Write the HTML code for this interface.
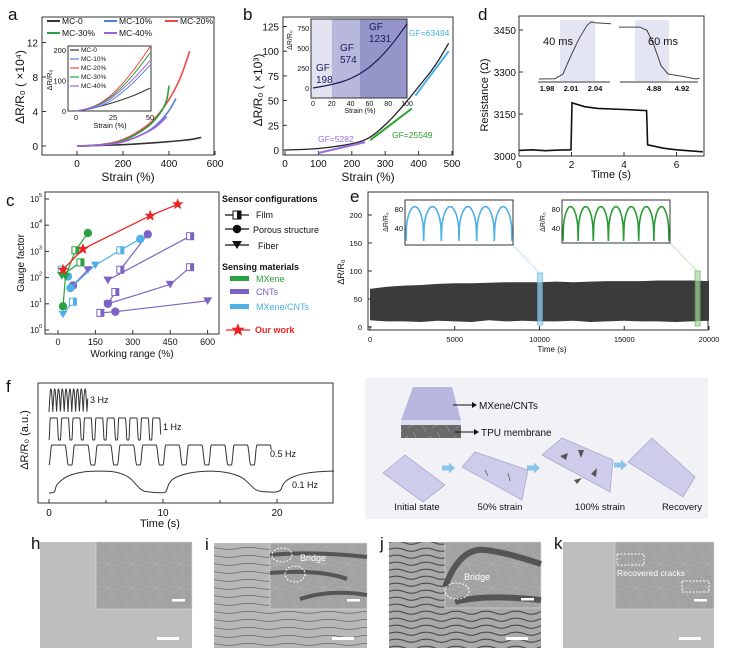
<!DOCTYPE html>
<html><head><meta charset="utf-8"><style>
html,body{margin:0;padding:0;background:#fff;}
svg{display:block;font-family:"Liberation Sans",Arial,sans-serif;}
</style></head><body>
<svg id="fig" width="729" height="661" viewBox="0 0 729 661" xmlns="http://www.w3.org/2000/svg">
<defs>
<pattern id="crk" width="40" height="8" patternUnits="userSpaceOnUse"><path d="M0 4 Q10 2.5 20 4.5 T40 4" stroke="#666" stroke-width="0.7" fill="none"/></pattern>
<pattern id="crk2" width="30" height="7" patternUnits="userSpaceOnUse"><path d="M0 3 Q8 1 15 4 T30 3" stroke="#4a4a4a" stroke-width="1.1" fill="none"/></pattern>
<pattern id="fib" width="24" height="24" patternUnits="userSpaceOnUse"><path d="M0 20 L24 4 M5 0 L18 24 M0 10 L24 14" stroke="#bdbdbd" stroke-width="0.4" fill="none"/></pattern>
</defs>
<g id="root"></g>
</svg>
<script>
// ---------- data ----------
const aMC0=[[0,0],[100,0.05],[200,0.15],[300,0.3],[400,0.5],[500,0.75],[540,1.0]];
const aMC10=[[0,0],[100,0.05],[200,0.4],[300,1.5],[350,2.5],[400,4],[430,5.5]];
const aMC20=[[0,0],[100,0.1],[200,0.6],[300,2.2],[350,3.5],[400,5.3],[450,7.8],[490,11]];
const aMC30=[[0,0],[100,0.08],[200,0.5],[300,2.0],[350,3.3],[390,5],[400,7]];
const aMC40=[[0,0],[100,0.05],[200,0.4],[300,1.5],[350,2.3],[390,3.4]];
const aiMC0=[[0,0],[10,8],[20,20],[30,35],[40,52],[50,75]];
const aiMC10=[[0,0],[10,6],[20,22],[30,55],[40,98],[50,150]];
const aiMC20=[[0,0],[10,10],[20,35],[30,80],[40,140],[50,210]];
const aiMC30=[[0,0],[10,9],[20,32],[30,72],[40,125],[50,190]];
const aiMC40=[[0,0],[10,8],[20,28],[30,65],[40,110],[50,165]];
const aXTicks=[0,200,400,600], aYTicks=[0,4,8,12];
const bMain=[[0,0],[100,1],[200,6],[250,11],[300,25],[350,43],[400,64],[450,85],[490,108]];
const bFitP=[[100,-3],[240,8]], bFitG=[[255,10],[380,42]], bFitB=[[390,55],[490,100]];
const bInset=[[0,0],[20,40],[40,110],[60,250],[80,480],[100,800]];
const bXTicks=[0,100,200,300,400,500], bYTicks=[0,25,50,75,100,125];
const dMain=[[0,3020],[0.5,3022],[1,3019],[1.5,3021],[1.98,3022],[2.02,3190],[2.5,3176],[3,3170],[4,3166],[4.86,3162],[4.9,3040],[5.5,3028],[6,3022],[7,3015]];
const dLeft=[[1.97,3020],[1.99,3021],[2.0,3035],[2.01,3090],[2.02,3140],[2.03,3180],[2.035,3190],[2.04,3188],[2.06,3185]];
const dRight=[[4.83,3175],[4.86,3175],[4.87,3165],[4.88,3120],[4.89,3060],[4.9,3035],[4.92,3028],[4.94,3020],[4.945,3022]];
const dXTicks=[0,2,4,6], dYTicks=[3000,3150,3300,3450];
const cOur=[[20,200],[100,1230],[370,23000],[480,63000]];
const cGreen=[[[20,8],[30,110],[70,1100],[120,5000]],[[15,120],[90,380]]];
const cBlue=[[[50,40],[150,300],[250,1100],[330,3000]],[[20,4],[60,12]],[[15,200],[40,110]]];
const cPurple=[[[60,50],[120,200]],[[200,80],[530,3800]],[[250,200],[360,4500]],[[200,10],[450,55],[530,250]],[[200,10],[230,28]],[[170,4.5],[230,5],[600,13]]];
const cXTicks=[0,150,300,450,600], cYExp=[0,1,2,3,4,5];
const eTimes=[0,1000,2000,3000,4000,5000,6000,7000,8000,9000,10000,11000,12000,13000,14000,15000,16000,17000,18000,19000,20000];
const eTop=[68,72,74,75,77,78,78,79,80,80,80,81,80,81,82,82,82,83,83,83,82];
const eBot=[12,10,10,9,11,10,9,12,10,11,10,10,11,9,10,11,10,10,9,10,11];
const eXTicks=[0,5000,10000,15000,20000], eYTicks=[0,50,100,150,200];
const eCycles=[6,7];
const fFreq=[3,1,0.5], fDur=[3.4,9.8,19.5], fLabels=["3 Hz","1 Hz","0.5 Hz","0.1 Hz"];
const fSlow=[[0,0],[0.5,0.02],[0.6,0.3],[0.8,0.45],[1.5,0.75],[2.5,0.92],[3.5,0.99],[5,1],[6,0.95],[7,0.75],[7.7,0.35],[8.2,0.08],[9,0.03],[10,0],[10.3,0.05],[10.5,0.45],[11,0.7],[12,0.88],[13,0.97],[14,1],[15,0.98],[16,0.9],[17,0.7],[17.7,0.35],[18.2,0.1],[19,0.05],[20.3,0.03],[20.5,0.4],[21,0.65],[22,0.85],[23,0.94],[24,0.98],[25,1]];
const fXTicks=[0,10,20];

const NS="http://www.w3.org/2000/svg";
const root=document.getElementById('root');
function mk(tag,at,par){const e=document.createElementNS(NS,tag);for(const k in at)e.setAttribute(k,at[k]);(par||root).appendChild(e);return e;}
function tx(x,y,s,size,extra){const e=mk('text',Object.assign({x:x,y:y,'font-size':size||9,fill:'#111'},extra||{}));e.textContent=s;return e;}
function pathOf(pts,fx,fy){return pts.map((p,i)=>(i?'L':'M')+fx(p[0]).toFixed(1)+' '+fy(p[1]).toFixed(1)).join(' ');}
function smooth(pts,fx,fy){let d='M'+fx(pts[0][0])+' '+fy(pts[0][1]);for(let i=1;i<pts.length;i++){const p0=pts[i-1],p1=pts[i];const mx=(fx(p0[0])+fx(p1[0]))/2;d+=' Q'+fx(p0[0])+' '+fy(p0[1])+' '+mx+' '+((fy(p0[1])+fy(p1[1]))/2);}const l=pts[pts.length-1];d+=' L'+fx(l[0])+' '+fy(l[1]);return d;}
function box(x,y,w,h,name){const r=mk('rect',{x:x,y:y,width:w,height:h,fill:'none',stroke:'#333','stroke-width':1});return r;}
function letter(x,y,s){const t=tx(x,y,s,17);}

// ---------- panel a ----------
letter(8,20,'a');
const xa=v=>77+v*0.23, ya=v=>146-v*8.625;
box(42,17,172,138,'panel-a-axes');
aXTicks.forEach(v=>{mk('line',{x1:xa(v),x2:xa(v),y1:155,y2:151,stroke:'#333'});const t=tx(xa(v),167,v,10,{'text-anchor':'middle'});});
aYTicks.forEach(v=>{mk('line',{x1:42,x2:46,y1:ya(v),y2:ya(v),stroke:'#333'});const t=tx(38,ya(v)+4,v,10,{'text-anchor':'end'});});
{const t=tx(128,181,'Strain (%)',12,{'text-anchor':'middle'});}
{const t=tx(0,0,'ΔR/R₀ ( ×10⁴)',12,{'text-anchor':'middle',transform:'translate(24,87) rotate(-90)'});}
const aCols=['#333','#4f7fd8','#f04848','#2aa040','#a060d8'];
[aMC0,aMC10,aMC20,aMC30,aMC40].forEach((s,i)=>{const p=mk('path',{d:smooth(s,xa,ya),fill:'none',stroke:aCols[i],'stroke-width':1.6});});
const aNames=['MC-0','MC-10%','MC-20%','MC-30%','MC-40%'];
const aLeg=[[47,24],[104,24],[165,24],[47,36],[104,36]];
aNames.forEach((n,i)=>{const g=mk('g',{});mk('line',{x1:aLeg[i][0],x2:aLeg[i][0]+13,y1:aLeg[i][1]-3,y2:aLeg[i][1]-3,stroke:aCols[i],'stroke-width':2},g);const t=tx(aLeg[i][0]+15,aLeg[i][1],n,8.5);g.appendChild(t);});
const xai=v=>76+v*1.48, yai=v=>111-v*0.305;
box(68,46,83,65,'a-inset-axes');
[0,25,50].forEach(v=>{tx(xai(v),120,v,7.5,{'text-anchor':'middle'});});
[0,100,200].forEach(v=>{tx(66,yai(v)+3,v,7.5,{'text-anchor':'end'});});
tx(110,128,'Strain (%)',7.5,{'text-anchor':'middle'});
tx(0,0,'ΔR/R₀',7.5,{'text-anchor':'middle',transform:'translate(52,80) rotate(-90)'});
[aiMC0,aiMC10,aiMC20,aiMC30,aiMC40].forEach((s,i)=>{const p=mk('path',{d:smooth(s,xai,yai),fill:'none',stroke:aCols[i],'stroke-width':1});});
aNames.forEach((n,i)=>{const y=52+i*9;mk('line',{x1:70,x2:79,y1:y-2,y2:y-2,stroke:aCols[i],'stroke-width':1.2});tx(81,y,n,6.5);});

// ---------- panel b ----------
letter(243,20,'b');
const xb=v=>285+v*0.334, yb=v=>150-v*0.988;
box(283,17,170,138,'panel-b-axes');
bXTicks.forEach(v=>{mk('line',{x1:xb(v),x2:xb(v),y1:155,y2:151,stroke:'#333'});const t=tx(xb(v),167,v,10,{'text-anchor':'middle'});});
bYTicks.forEach(v=>{mk('line',{x1:283,x2:287,y1:yb(v),y2:yb(v),stroke:'#333'});const t=tx(279,yb(v)+4,v,10,{'text-anchor':'end'});});
tx(368,181,'Strain (%)',12,{'text-anchor':'middle'});
tx(0,0,'ΔR/R₀ ( ×10³)',12,{'text-anchor':'middle',transform:'translate(262,90) rotate(-90)'});
{const p=mk('path',{d:smooth(bMain,xb,yb),fill:'none',stroke:'#222','stroke-width':1.3});}
[[bFitP,'#9a6ee0'],[bFitG,'#2ca02c'],[bFitB,'#4ab0e8']].forEach(f=>{const p=mk('path',{d:pathOf(f[0],xb,yb),fill:'none',stroke:f[1],'stroke-width':2});});
tx(318,142,'GF=5282',8.5,{fill:'#9a6ee0'});
tx(392,138,'GF=25549',8.5,{fill:'#2ca02c'});
tx(409,36,'GF=63494',8.5,{fill:'#4ab0e8'});
const xbi=v=>313+v*0.94, ybi=v=>88-v*0.08;
mk('rect',{x:311,y:19,width:xbi(20)-311,height:79,fill:'#e2e2f1'});
mk('rect',{x:xbi(20),y:19,width:xbi(50)-xbi(20),height:79,fill:'#b8b8dc'});
mk('rect',{x:xbi(50),y:19,width:407-xbi(50),height:79,fill:'#9595c9'});
box(311,19,96,79,'b-inset-axes');
{const p=mk('path',{d:smooth(bInset,xbi,ybi),fill:'none',stroke:'#1a1a5a','stroke-width':1.2});}
[0,20,40,60,80,100].forEach(v=>tx(xbi(v),106,v,7,{'text-anchor':'middle'}));
[0,250,500,750].forEach(v=>tx(309,ybi(v)+3,v,7,{'text-anchor':'end'}));
tx(xbi(50),113,'Strain (%)',7,{'text-anchor':'middle'});
tx(0,0,'ΔR/R₀',7,{'text-anchor':'middle',transform:'translate(292,40) rotate(-90)'});
tx(316,71,'GF',10,{fill:'#1a1a5a'});tx(316,83,'198',10,{fill:'#1a1a5a'});
tx(340,51,'GF',10,{fill:'#1a1a5a'});tx(340,63,'574',10,{fill:'#1a1a5a'});
tx(369,30,'GF',10,{fill:'#1a1a5a'});tx(369,42,'1231',10,{fill:'#1a1a5a'});

// ---------- panel d ----------
letter(478,20,'d');
const xd=v=>519+v*26.25, yd=v=>156-(v-3000)*0.28;
box(519,16,185,140,'panel-d-axes');
dXTicks.forEach(v=>{mk('line',{x1:xd(v),x2:xd(v),y1:156,y2:152,stroke:'#333'});const t=tx(xd(v),168,v,10,{'text-anchor':'middle'});});
dYTicks.forEach(v=>{mk('line',{x1:519,x2:523,y1:yd(v),y2:yd(v),stroke:'#333'});const t=tx(516,yd(v)+4,v,10,{'text-anchor':'end'});});
tx(611,178,'Time (s)',11,{'text-anchor':'middle'});
tx(0,0,'Resistance (Ω)',11,{'text-anchor':'middle',transform:'translate(488,95) rotate(-90)'});
{const p=mk('path',{d:pathOf(dMain,xd,yd),fill:'none',stroke:'#111','stroke-width':1.6});}
const xdl=v=>547+(v-1.98)*800, xdr=v=>654+(v-4.88)*700, ydi=v=>79-(v-3020)*0.335;
mk('rect',{x:560,y:20,width:35,height:61,fill:'#e3e5f3'});
mk('rect',{x:635,y:20,width:34,height:61,fill:'#e3e5f3'});
mk('line',{x1:538,x2:610,y1:82,y2:82,stroke:'#333'});mk('line',{x1:620,x2:698,y1:82,y2:82,stroke:'#333'});
{const p=mk('path',{d:pathOf(dLeft,xdl,ydi),fill:'none',stroke:'#444','stroke-width':1});}
{const p=mk('path',{d:pathOf(dRight,xdr,ydi),fill:'none',stroke:'#444','stroke-width':1});}
[1.98,2.01,2.04].forEach(v=>tx(xdl(v),91,v.toFixed(2),7.5,{'text-anchor':'middle','font-weight':'bold'}));
[4.88,4.92].forEach(v=>tx(xdr(v),91,v.toFixed(2),7.5,{'text-anchor':'middle','font-weight':'bold'}));
tx(543,45,'40 ms',11);tx(648,45,'60 ms',11);

// ---------- panel c ----------
letter(6,206,'c');
const xc=v=>58+v*0.2493, yc=v=>330-Math.log10(v)*26.2;
box(45,192,174,142,'panel-c-axes');
cXTicks.forEach(v=>{mk('line',{x1:xc(v),x2:xc(v),y1:334,y2:330,stroke:'#333'});const t=tx(xc(v),345,v,9,{'text-anchor':'middle'});});
cYExp.forEach(e=>{const y=yc(Math.pow(10,e));mk('line',{x1:45,x2:49,y1:y,y2:y,stroke:'#333'});const t=tx(39,y+3,'10',8,{'text-anchor':'end'});tx(39,y-2,e,5.5);});
tx(132,357,'Working range (%)',10,{'text-anchor':'middle'});
tx(0,0,'Gauge factor',10,{'text-anchor':'middle',transform:'translate(24,263) rotate(-90)'});
function seriesC(list,col,nm){list.forEach((s,si)=>{const p=mk('path',{d:pathOf(s,xc,yc),fill:'none',stroke:col,'stroke-width':1.2});s.forEach((pt,k)=>{const x=xc(pt[0]),y=yc(pt[1]);let m;const t=(si+k)%3;if(t===0){m=mk('circle',{cx:x,cy:y,r:4.2,fill:col});}else if(t===1){m=mk('path',{d:`M${x-4.5} ${y-3.5} L${x+4.5} ${y-3.5} L${x} ${y+4} Z`,fill:col});}else{m=mk('g',{});mk('rect',{x:x-3.5,y:y-3.5,width:7,height:7,fill:'#fff',stroke:col,'stroke-width':1},m);mk('rect',{x:x,y:y-3.5,width:3.5,height:7,fill:col},m);}});});}
seriesC(cPurple,'#7b62c4','cnts');seriesC(cBlue,'#4fb0e6','mxene-cnts');seriesC(cGreen,'#2aa040','mxene');
{const p=mk('path',{d:pathOf(cOur,xc,yc),fill:'none',stroke:'#ee2222','stroke-width':1.3});}
function star(x,y,r,col){let d='';for(let i=0;i<10;i++){const a=-Math.PI/2+i*Math.PI/5,rr=i%2?r*0.42:r;d+=(i?'L':'M')+(x+rr*Math.cos(a)).toFixed(1)+' '+(y+rr*Math.sin(a)).toFixed(1);}return mk('path',{d:d+'Z',fill:col});}
cOur.forEach(p=>{const s=star(xc(p[0]),yc(p[1]),6,'#ee2222');});
tx(222,202,'Sensor configurations',9,{'font-weight':'bold'});
mk('line',{x1:225,x2:249,y1:215,y2:215,stroke:'#111','stroke-width':1.2});mk('rect',{x:233,y:211,width:8,height:8,fill:'#fff',stroke:'#111'});mk('rect',{x:237,y:211,width:4,height:8,fill:'#111'});tx(256,218,'Film',9);
mk('line',{x1:225,x2:249,y1:229,y2:229,stroke:'#111','stroke-width':1.2});mk('circle',{cx:237,cy:229,r:4.3,fill:'#111'});tx(253,233,'Porous structure',9);
mk('line',{x1:225,x2:249,y1:245,y2:245,stroke:'#111','stroke-width':1.2});mk('path',{d:'M232 241 L242 241 L237 249 Z',fill:'#111'});tx(258,249,'Fiber',9);
tx(222,270,'Sensing materials',9,{'font-weight':'bold'});
[['MXene','#2aa040',279],['CNTs','#7b62c4',292],['MXene/CNTs','#4fb0e6',307]].forEach(r=>{mk('rect',{x:230,y:r[2]-3,width:19,height:5,fill:r[1]});tx(256,r[2]+3,r[0],9,{fill:r[1]});});
mk('line',{x1:226,x2:250,y1:330,y2:330,stroke:'#ee2222','stroke-width':1.3});star(238,330,7,'#ee2222');tx(255,333,'Our work',9,{fill:'#ee2222','font-weight':'bold'});

// ---------- panel e ----------
letter(350,202,'e');
const xe=v=>370+v*0.01695, ye=v=>327-v*0.56;
box(368,192,340,138,'panel-e-axes');
eXTicks.forEach(v=>{mk('line',{x1:xe(v),x2:xe(v),y1:330,y2:326,stroke:'#333'});const t=tx(xe(v),342,v,7.5,{'text-anchor':'middle'});});
eYTicks.forEach(v=>{mk('line',{x1:368,x2:372,y1:ye(v),y2:ye(v),stroke:'#333'});const t=tx(362,ye(v)+3,v,7.5,{'text-anchor':'end'});});
tx(552,352,'Time (s)',8,{'text-anchor':'middle'});
tx(0,0,'ΔR/R₀',9,{'text-anchor':'middle',transform:'translate(344,272) rotate(-90)'});
{let d='';eTimes.forEach((t,i)=>{d+=(i?'L':'M')+xe(t).toFixed(1)+' '+ye(eTop[i]).toFixed(1);});for(let i=eTimes.length-1;i>=0;i--)d+='L'+xe(eTimes[i]).toFixed(1)+' '+ye(eBot[i]).toFixed(1);const p=mk('path',{d:d+'Z',fill:'#3b3b3b'});}
mk('rect',{x:xe(10000)-2,y:273,width:5,height:52,fill:'#9ed3f0',opacity:0.7,stroke:'#5ab4e6'});
mk('rect',{x:xe(19300)-2,y:271,width:5,height:55,fill:'#a7d7a0',opacity:0.7,stroke:'#6aaa60'});
mk('line',{x1:513,y1:245,x2:xe(10000),y2:273,stroke:'#9ed3f0','stroke-width':0.6});
mk('line',{x1:670,y1:243,x2:xe(19300),y2:271,stroke:'#a7d7a0','stroke-width':0.6});
function waveInset(x0,y0,w,h,cyc,col,nm){mk('rect',{x:x0,y:y0,width:w,height:h,fill:'#fff',stroke:'#333'});const yi=v=>y0+9-(v-80)*0.47;let d='';const N=cyc*40;for(let i=0;i<=N;i++){const ph=(i/40)%1;const s=Math.pow(Math.abs(Math.sin(Math.PI*ph)),0.35);const v=12+73*s;d+=(i?'L':'M')+(x0+1+i*(w-2)/N).toFixed(1)+' '+yi(v).toFixed(1);}const p=mk('path',{d:d,fill:'none',stroke:col,'stroke-width':1.6});tx(x0-2,yi(80)+3,'80',7.5,{'text-anchor':'end'});tx(x0-2,yi(40)+3,'40',7.5,{'text-anchor':'end'});tx(0,0,'ΔR/R₀',7,{'text-anchor':'middle',transform:`translate(${x0-17},${y0+22}) rotate(-90)`});}
waveInset(405,200,108,45,eCycles[0],'#4fb0e6','e-inset-blue-wave');
waveInset(562,200,108,43,eCycles[1],'#2a9a35','e-inset-green-wave');

// ---------- panel f ----------
letter(6,392,'f');
const xf=v=>49+v*11.4;
box(38,383,295,120,'panel-f-axes');
fXTicks.forEach(v=>{mk('line',{x1:xf(v),x2:xf(v),y1:503,y2:499,stroke:'#333'});const t=tx(xf(v),516,v,10,{'text-anchor':'middle'});});
[5,15].forEach(v=>mk('line',{x1:xf(v),x2:xf(v),y1:503,y2:500,stroke:'#333'}));
tx(160,527,'Time (s)',11,{'text-anchor':'middle'});
tx(0,0,'ΔR/R₀ (a.u.)',11,{'text-anchor':'middle',transform:'translate(28,440) rotate(-90)'});
const fTop=[389,418,445,471], fBot=[412,440,465,493];
function ease(u){return 0.5-0.5*Math.cos(Math.PI*Math.max(0,Math.min(1,u)));}
fFreq.forEach((fq,k)=>{let d='';const T=1/fq;const N=600;const end=fDur[k];for(let i=0;i<=N;i++){const t=i*end/N;const ph=(t/T)%1;let s;if(k===0){s=Math.abs(Math.sin(Math.PI*ph));}else{if(ph<0.12)s=ease(ph/0.12);else if(ph<0.7)s=1;else if(ph<0.85)s=1-ease((ph-0.7)/0.15);else s=0;}const y=fBot[k]-(fBot[k]-fTop[k])*s;d+=(i?'L':'M')+xf(t).toFixed(1)+' '+y.toFixed(1);}const p=mk('path',{d:d,fill:'none',stroke:'#333','stroke-width':1});});
{const p=mk('path',{d:smooth(fSlow,xf,v=>fBot[3]-(fBot[3]-fTop[3])*v),fill:'none',stroke:'#333','stroke-width':1});}
[[90,403],[163,430],[270,457],[292,488]].forEach((p,i)=>tx(p[0],p[1],fLabels[i],9));

// ---------- panel g ----------
letter(368,394,'g');
mk('rect',{x:365,y:378,width:343,height:141,fill:'#f2f2f6'});
mk('polygon',{points:'413,387 452,387 461,420 401,420',fill:'#b7b7df'});
mk('rect',{x:401,y:420,width:60,height:5,fill:'#dedef0'});
mk('rect',{x:401,y:425,width:60,height:13,fill:'#6a6a6a'});
mk('rect',{x:401,y:425,width:60,height:13,fill:'url(#fib)'});
mk('line',{x1:453,y1:405,x2:472,y2:405,stroke:'#111'});mk('path',{d:'M472 402 L477 405 L472 408Z',fill:'#111'});tx(479,409,'MXene/CNTs',10);
mk('line',{x1:455,y1:432,x2:474,y2:432,stroke:'#111'});mk('path',{d:'M474 429 L479 432 L474 435Z',fill:'#111'});tx(481,436,'TPU membrane',10);
[['383,473 405,455 445,485 423,502','initial'],['462,467 475,452 528,470 522,500','strain-50'],['542,455 562,438 613,460 610,492','strain-100'],['628,462 652,438 695,477 683,497','recovery']].forEach(f=>{const p=mk('polygon',{points:f[0],fill:'#cdcdeb',stroke:'#a9a9d0','stroke-width':0.8});});
mk('path',{d:'M560 456 l8 -3 l-2 7z M578 450 l6 0 l-3 8z M591 474 l6 -6 l-1 9z M574 480 l8 -2 l-5 6z',fill:'#555'});
mk('path',{d:'M485 470 l3 6 M508 473 l2 8',stroke:'#777','stroke-width':1});
[[450,468],[535,468],[622,465]].forEach(a=>{mk('path',{d:`M${a[0]-8} ${a[1]-2.5} h7 v-3 l6 5.5 l-6 5.5 v-3 h-7z`,fill:'#8cc4ea'});});
[['Initial state',417],['50% strain',500],['100% strain',600],['Recovery',682]].forEach(l=>tx(l[1],510,l[0],9.5,{'text-anchor':'middle'}));

// ---------- SEM panels ----------
function sem(x,y,w,h,ix,ih,kind,lab){letter(x-9,y+7,lab);const g=mk('g',{});
 const base=kind==='h'||kind==='k'?'#bebebe':(kind==='i'?'#b8b8b8':'#a9a9a9');mk('rect',{x:x,y:y,width:w,height:h,fill:base},g);
 if(kind==='i'||kind==='j'){mk('rect',{x:x,y:y,width:w,height:h,fill:kind==='j'?'url(#crk2)':'url(#crk)'},g);}
 mk('rect',{x:ix,y:y,width:x+w-ix,height:ih,fill:'#a2a2a2',stroke:'#ddd','stroke-width':0.6},g);
 mk('rect',{x:ix,y:y,width:x+w-ix,height:ih,fill:'url(#fib)'},g);
 if(kind==='i'){mk('path',{d:`M${ix} ${y+12} Q${ix+40} ${y+8} ${x+w} ${y+14} M${ix} ${y+30} Q${ix+50} ${y+26} ${x+w-20} ${y+36} M${ix+30} ${y+56} Q${ix+60} ${y+46} ${x+w} ${y+52}`,stroke:'#555','stroke-width':4,fill:'none'},g);
   mk('ellipse',{cx:ix+12,cy:y+12,rx:10,ry:7,fill:'none',stroke:'#fff','stroke-dasharray':'2 1.5'},g);mk('ellipse',{cx:ix+25,cy:y+31,rx:10,ry:8,fill:'none',stroke:'#fff','stroke-dasharray':'2 1.5'},g);tx(ix+30,y+18,'Bridge',9,{fill:'#fff'});}
 if(kind==='j'){mk('path',{d:`M${ix} ${y+45} Q${ix+15} ${y+5} ${ix+40} ${y+8} Q${ix+60} ${y+10} ${x+w} ${y+22} M${ix+10} ${y+60} Q${ix+40} ${y+52} ${x+w} ${y+58}`,stroke:'#555','stroke-width':6,fill:'none'},g);
   mk('ellipse',{cx:ix+12,cy:y+49,rx:12,ry:8,fill:'none',stroke:'#fff','stroke-dasharray':'2 1.5'},g);tx(ix+19,y+38,'Bridge',9,{fill:'#fff'});}
 if(kind==='k'){mk('rect',{x:ix+2,y:y+12,width:27,height:11,fill:'none',stroke:'#fff','stroke-dasharray':'2 1.5'},g);mk('rect',{x:ix+67,y:y+39,width:27,height:11,fill:'none',stroke:'#fff','stroke-dasharray':'2 1.5'},g);tx(ix+2,y+34,'Recovered cracks',8.5,{fill:'#fff'});}
 mk('rect',{x:x+w-20,y:y+ih-10,width:13,height:2.5,fill:'#fff'},g);
 mk('rect',{x:x+w-35,y:y+h-11,width:22,height:3,fill:'#fff'},g);}
sem(40,542,152,106,96,67,'h','h');
sem(214,543,153,105,270,66,'i','i');
sem(389,542,152,106,445,66,'j','j');
sem(563,542,151,106,615,67,'k','k');
</script>
</body></html>
